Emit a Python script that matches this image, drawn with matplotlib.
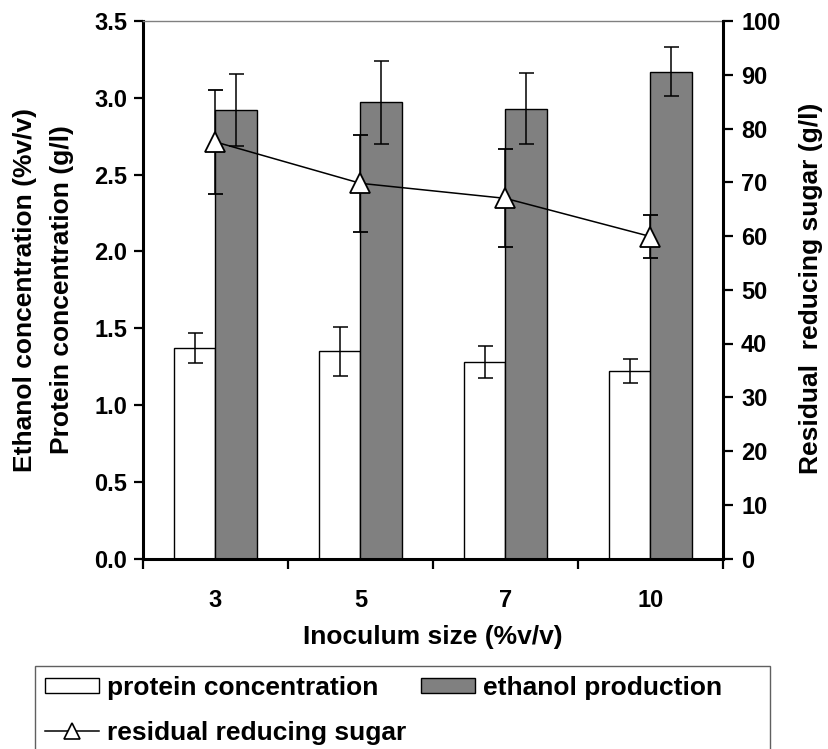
import matplotlib
matplotlib.use("Agg")
import matplotlib.pyplot as plt
from matplotlib.patches import Patch, Rectangle
from matplotlib.lines import Line2D
import numpy as np

# inoculum size series (%v/v)
inoculum = ["3", "5", "7", "10"]
protein = [1.37, 1.35, 1.28, 1.22]          # g/l
protein_err = [0.10, 0.16, 0.105, 0.08]
ethanol = [2.92, 2.97, 2.93, 3.17]          # %v/v
ethanol_err = [0.235, 0.27, 0.23, 0.16]
sugar = [77.5, 69.8, 67.0, 59.9]            # g/l
sugar_err = [9.7, 9.0, 9.1, 4.0]

plt.rcParams["font.family"] = "Liberation Sans"
plt.rcParams["font.weight"] = "bold"

W, H = 829, 749
fig = plt.figure(figsize=(W / 100, H / 100), dpi=100)
ax = fig.add_axes([143 / W, 1 - 558.5 / H, 580 / W, 537.5 / H])

x = np.arange(len(inoculum))
w = 0.285
err_kw = dict(ecolor="black", elinewidth=1.1, capsize=5.4, capthick=1.1)
ax.bar(x - w / 2, protein, w, color="white", edgecolor="black", linewidth=1.0,
       yerr=protein_err, error_kw=err_kw, zorder=2)
ax.bar(x + w / 2, ethanol, w, color="#808080", edgecolor="black", linewidth=1.0,
       yerr=ethanol_err, error_kw=err_kw, zorder=2)

ax.set_xlim(-0.5, len(inoculum) - 0.5)
ax.set_ylim(0, 3.5)
ax.set_yticks(np.arange(0, 3.51, 0.5))
ax.set_yticklabels([f"{v:.1f}" for v in np.arange(0, 3.51, 0.5)])
ax.set_xticks(x)
ax.set_xticklabels(inoculum)
ax.set_xticks(np.arange(-0.5, len(inoculum), 1.0), minor=True)
ax.tick_params(axis="x", which="major", length=0, pad=22, labelsize=17)
ax.tick_params(axis="x", which="minor", length=7, width=1.6, direction="out")
ax.tick_params(axis="y", length=6.5, width=1.6, direction="out", pad=5, labelsize=17)

for side in ("left", "bottom"):
    ax.spines[side].set_linewidth(2.2)
ax.spines["right"].set_visible(False)
ax.spines["top"].set_color("#808080")
ax.spines["top"].set_linewidth(1.0)

# residual sugar on the right axis
ax2 = ax.twinx()
ax2.errorbar(x, sugar, yerr=sugar_err, color="black", linewidth=1.1,
             marker="^", markersize=14, markerfacecolor="white",
             markeredgecolor="black", markeredgewidth=1.3,
             elinewidth=1.1, capsize=5.4, capthick=1.1, zorder=3)
ax2.set_ylim(0, 100)
ax2.set_yticks(np.arange(0, 101, 10))
ax2.tick_params(axis="y", length=7, width=1.6, direction="out", pad=6, labelsize=17)
for side in ("left", "bottom", "top"):
    ax2.spines[side].set_visible(False)
ax2.spines["right"].set_linewidth(2.2)

# axis titles
fig.text(433 / W, 1 - 644 / H, "Inoculum size (%v/v)", ha="center",
         va="baseline", fontsize=19, fontweight="bold")
fig.text(25 / W, 1 - 290 / H, "Ethanol concentration (%v/v)", rotation=90,
         ha="center", va="center", fontsize=19, fontweight="bold")
fig.text(62 / W, 1 - 290 / H, "Protein concentration (g/l)", rotation=90,
         ha="center", va="center", fontsize=19, fontweight="bold")
fig.text(811 / W, 1 - 288 / H, "Residual  reducing sugar (g/l)", rotation=90,
         ha="center", va="center", fontsize=19, fontweight="bold")

# legend below the plot, boxed
h_protein = Patch(facecolor="white", edgecolor="black", linewidth=1.0)
h_ethanol = Patch(facecolor="#808080", edgecolor="black", linewidth=1.0)
h_sugar = Line2D([], [], color="black", linewidth=1.1, marker="^", markersize=12,
                 markerfacecolor="white", markeredgecolor="black", markeredgewidth=1.2)
fig.legend([h_protein, h_sugar, h_ethanol],
           ["protein concentration", "residual reducing sugar", "ethanol production"],
           ncol=2, loc="upper left", bbox_to_anchor=(45 / W, 1 - 676 / H),
           frameon=False, borderpad=0, borderaxespad=0, handlelength=2.05,
           handleheight=0.53, handletextpad=0.3, columnspacing=0.57,
           labelspacing=0.78, prop={"weight": "bold", "size": 19})
fig.patches.append(Rectangle((35 / W, 1 - 752 / H), 735 / W, 86 / H,
                             transform=fig.transFigure, facecolor="none",
                             edgecolor="#606060", linewidth=1.0))

fig.savefig("out.png", dpi=100)
